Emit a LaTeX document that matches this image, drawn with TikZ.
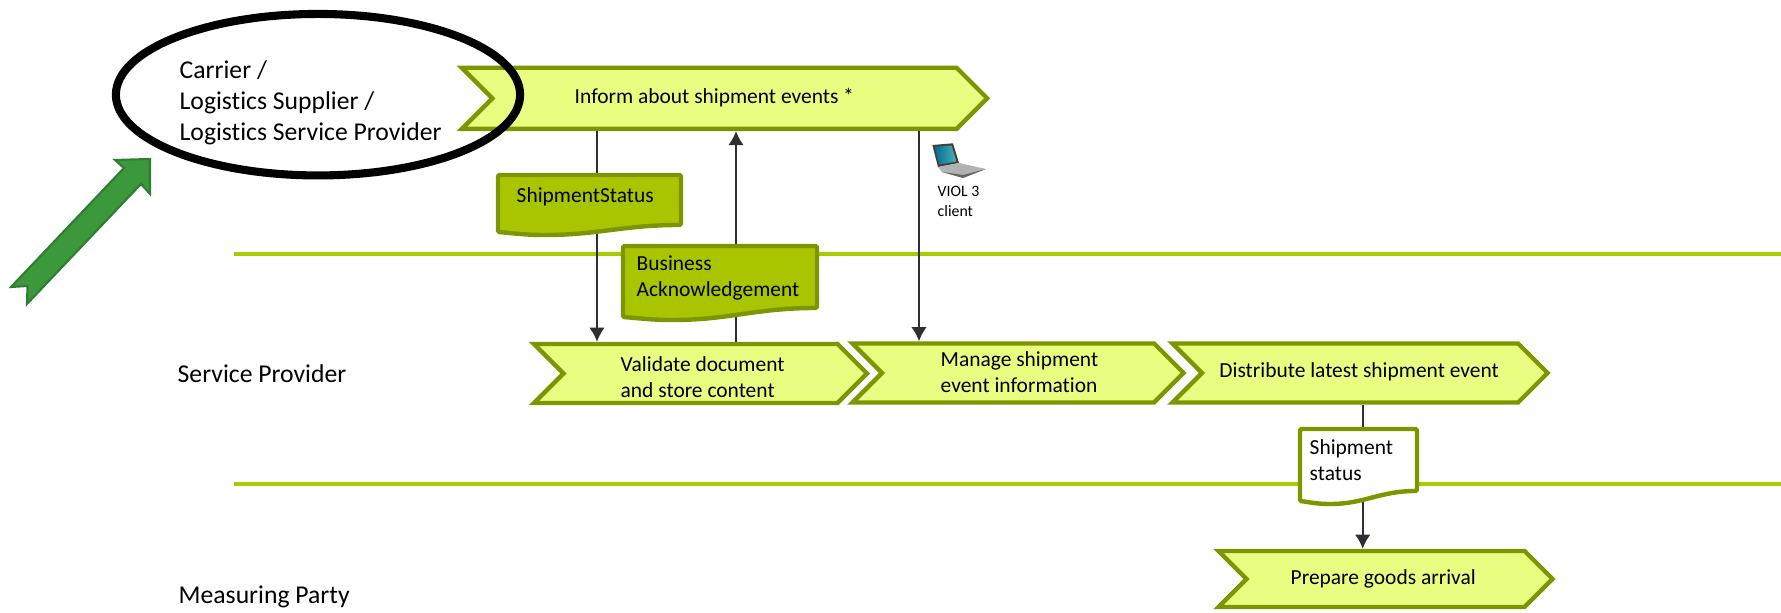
\documentclass[tikz,border=0pt]{standalone}
\usepackage{fontspec}
\setmainfont[Ligatures=CommonOff]{Carlito}
\usetikzlibrary{arrows.meta,shapes.symbols}
\definecolor{chevfill}{HTML}{E9FE80}
\definecolor{chevline}{HTML}{7C9600}
\definecolor{docfill}{HTML}{A8C500}
\definecolor{laneline}{HTML}{ABCB00}
\definecolor{flowline}{HTML}{2F2F33}
\definecolor{arrowfill}{HTML}{3B983B}
\definecolor{arrowline}{HTML}{2E7D32}
\newcommand\docshape[6]{\draw [#1] (#2, #3) -- ({#2+#4}, #3) -- ({#2+#4}, {#3+#5})
  .. controls ({#2+0.68*#4}, {#3+#5}) and ({#2+0.55*#4}, {#3+#6+3}) .. ({#2+0.25*#4}, {#3+#6+3})
  .. controls ({#2+0.15*#4}, {#3+#6+3}) and ({#2+0.07*#4}, {#3+#6+1}) .. (#2, {#3+#6}) -- cycle;}
\tikzset{
  chevron/.style={signal, signal from=west, signal to=east, signal pointer angle=90, draw=chevline, fill=chevfill, line width=1.25pt, inner sep=0pt},
  bigfont/.style={font=\fontsize{7.3}{8.9}\selectfont, inner sep=0pt, align=left},
  boxfont/.style={font=\fontsize{6.1}{7.2}\selectfont, inner sep=0pt, align=left},
  smallfont/.style={font=\fontsize{4.5}{5.7}\selectfont, inner sep=0pt, align=left},
  flow/.style={draw=flowline, line width=0.6pt, -{Latex[length=4pt,width=4.4pt]}},
  lane/.style={draw=laneline, line width=1.35pt},
  docline/.style={draw=chevline, line width=1.25pt, rounded corners=0.4pt},
}

\begin{document}
\begin{tikzpicture}[x=0.01cm, y=-0.01cm]
  \useasboundingbox (0, 0) rectangle (1781, 613);

  % lanes
  \draw [lane] (234, 254) -- (1781, 254);
  \draw [lane] (234, 484) -- (1781, 484);

  % steps
  \node [chevron, minimum width=5.25cm, minimum height=0.61cm] (inform) at (724.5, 98.3) {};
  \node [chevron, minimum width=3.33cm, minimum height=0.59cm] (validate) at (700.5, 373.5) {};
  \node [chevron, minimum width=3.31cm, minimum height=0.59cm] (manage) at (1018, 373) {};
  \node [chevron, minimum width=3.75cm, minimum height=0.59cm] (distribute) at (1360, 373) {};
  \node [chevron, minimum width=3.34cm, minimum height=0.56cm] (prepare) at (1385.5, 579) {};

  % x positions of the flows
  \coordinate (xstatus) at (597, 0);
  \coordinate (xack) at (736, 0);
  \coordinate (xclient) at (919, 0);
  \coordinate (xarrival) at (1362.7, 0);

  \draw [flow] (xstatus |- inform.south) -- (xstatus |- validate.north);
  \draw [flow] (xack |- validate.north) -- (xack |- inform.south);
  \draw [flow] (xclient |- inform.south) -- (xclient |- manage.north);
  \draw [flow] (xarrival |- distribute.south) -- (xarrival |- prepare.north);

  % documents
  \docshape{docline, fill=docfill}{498}{175}{183}{50}{57}
  \node [boxfont, anchor=base west] (statusdoc) at (516, 202.7) {ShipmentStatus};
  \docshape{docline, fill=docfill}{623}{246}{194}{62}{71}
  \node [boxfont, anchor=west] (ackdoc) at (636, 278) {Business\\Acknowledgement};
  \docshape{docline, fill=white}{1300}{429}{117}{62}{72}
  \node [boxfont, anchor=west] (shipdoc) at (1309, 460) {Shipment\\status};

  % step texts
  \node [boxfont, anchor=base west] (informtext) at (574, 104) {Inform about shipment events *};
  \node [boxfont, anchor=west] (validatetext) at (620, 377) {Validate document\\and store content};
  \node [boxfont, anchor=west] (managetext) at (940, 372) {Manage shipment\\event information};
  \node [boxfont, anchor=base west] (distributetext) at (1218.7, 378) {Distribute latest shipment event};
  \node [boxfont, anchor=base west] (preparetext) at (1290, 585) {Prepare goods arrival};

  % laptop
  \fill [black!75] (932.3, 145) -- (953, 143.3) -- (959, 163) -- (938, 167) -- cycle;
  \shade [left color=blue!30!cyan!60!black, right color=cyan!40!gray] (934.5, 147) -- (951.5, 145.5) -- (956.5, 161.5) -- (939.5, 164.5) -- cycle;
  \fill [black!30] (938, 167) -- (959, 163) -- (986, 169) -- (963, 178) -- (942, 172) -- cycle;
  \fill [black!60] (942, 172) -- (963, 175) -- (986, 169) -- (963, 178) -- cycle;
  \node [smallfont, anchor=west] (clienttext) at (937, 201) {VIOL 3\\client};

  % parties
  \node [bigfont, anchor=west] (carrier) at (179, 103) {Carrier /\\Logistics Supplier /\\Logistics Service Provider};
  \node [bigfont, anchor=base west] (provider) at (177, 383) {Service Provider};
  \node [bigfont, anchor=base west] (measuring) at (178, 604) {Measuring Party};

  % highlight
  \draw [line width=2.3pt] (318, 94.7) ellipse (2.02cm and 0.807cm);
  \draw [fill=arrowfill, draw=arrowline, line width=0.6pt] (150, 159) -- (115, 160) -- (124, 168) -- (11, 287) -- (27.5, 286) -- (27, 304) -- (141, 184) -- (150, 194) -- cycle;
\end{tikzpicture}
\end{document}
